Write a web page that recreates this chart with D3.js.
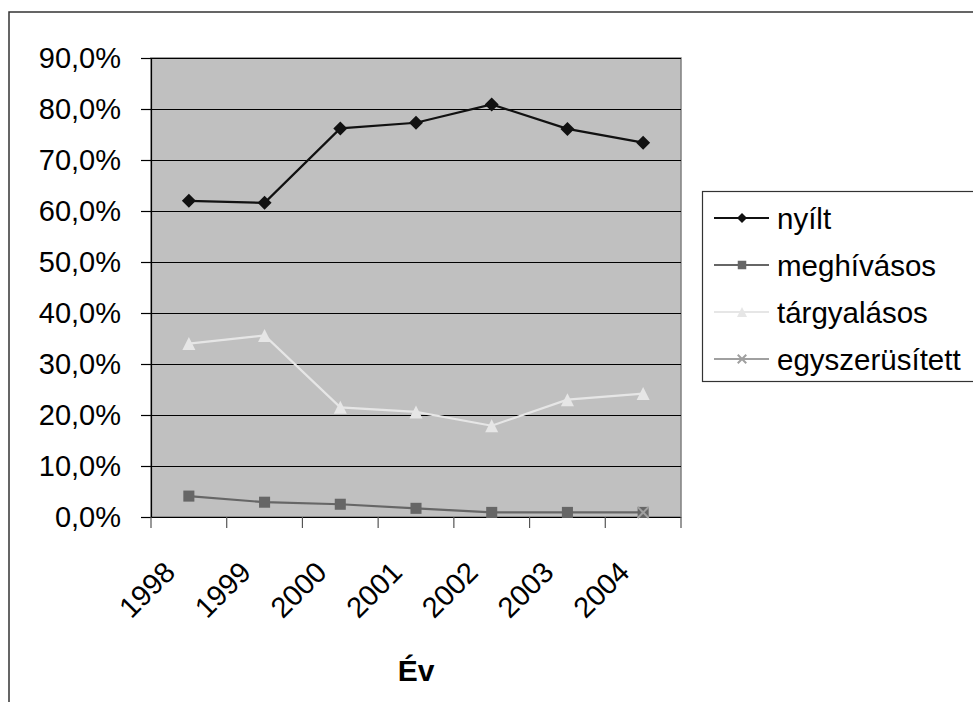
<!DOCTYPE html>
<html>
<head>
<meta charset="utf-8">
<script src="https://cdn.jsdelivr.net/npm/d3@7"></script>
<style>
  html, body { margin: 0; padding: 0; background: #fff; }
  svg { display: block; }
  text { font-family: "Liberation Sans", Arial, sans-serif; }
</style>
</head>
<body>
<svg id="chart" width="973" height="702"></svg>
<script>
const years = ["1998", "1999", "2000", "2001", "2002", "2003", "2004"];
const nyilt = [62.0, 61.6, 76.2, 77.3, 80.9, 76.1, 73.4];
const meghivasos = [4.1, 2.9, 2.5, 1.7, 0.9, 0.9, 0.9];
const targyalasos = [34.0, 35.6, 21.5, 20.6, 17.9, 23.0, 24.2];
const egyszerusitett = [null, null, null, null, null, null, 0.9];
const yTicks = [0, 10, 20, 30, 40, 50, 60, 70, 80, 90];
const seriesNames = ["nyílt", "meghívásos", "tárgyalásos", "egyszerüsített"];
const xTitle = "Év";

const series = [
  { name: seriesNames[0], values: nyilt, line: "#111111", fill: "#111111", marker: "diamond", size: 14 },
  { name: seriesNames[1], values: meghivasos, line: "#666666", fill: "#666666", marker: "square", size: 13 },
  { name: seriesNames[2], values: targyalasos, line: "#e6e6e6", fill: "#e6e6e6", marker: "triangle", size: 13 },
  { name: seriesNames[3], values: egyszerusitett, line: "#a0a0a0", fill: "#a0a0a0", marker: "x", size: 13 }
];

const svg = d3.select("#chart");

// outer chart border
svg.append("rect").attr("x", 9).attr("y", 12).attr("width", 1000).attr("height", 740)
  .attr("fill", "#fff").attr("stroke", "#333").attr("stroke-width", 1.5);

const plot = { left: 151, right: 681, top: 58, bottom: 517 };

const x = d3.scaleBand().domain(years).range([plot.left, plot.right]).paddingInner(0).paddingOuter(0);
const y = d3.scaleLinear().domain([0, 90]).range([plot.bottom, plot.top]);

// plot background
svg.append("rect").attr("x", plot.left).attr("y", plot.top)
  .attr("width", plot.right - plot.left).attr("height", plot.bottom - plot.top)
  .attr("fill", "#c0c0c0").attr("stroke", "#808080").attr("stroke-width", 1.5);

// gridlines
svg.append("g").selectAll("line").data(yTicks.filter(d => d > 0)).join("line")
  .attr("x1", plot.left).attr("x2", plot.right)
  .attr("y1", d => Math.round(y(d)) + 0.5).attr("y2", d => Math.round(y(d)) + 0.5)
  .attr("stroke", "#000").attr("stroke-width", 1.2);

// y axis
const yAxis = d3.axisLeft(y).tickValues(yTicks).tickSize(10).tickPadding(20)
  .tickFormat(d => d3.format(".1f")(d).replace(".", ",") + "%");
const gy = svg.append("g").attr("transform", `translate(${plot.left},0)`).call(yAxis);
gy.select(".domain").attr("stroke", "#000").attr("stroke-width", 1.2);
gy.selectAll(".tick line").attr("stroke", "#000").attr("stroke-width", 1.2);
gy.selectAll(".tick text").attr("font-size", 29).attr("fill", "#000")
  .attr("font-family", "Liberation Sans, Arial, sans-serif");

// x axis (ticks at category boundaries)
const xAxisG = svg.append("g");
xAxisG.append("line").attr("x1", plot.left).attr("x2", plot.right)
  .attr("y1", plot.bottom + 0.5).attr("y2", plot.bottom + 0.5).attr("stroke", "#000").attr("stroke-width", 1.2);
const boundaries = years.map(d => x(d)).concat([x(years[years.length - 1]) + x.bandwidth()]);
xAxisG.selectAll("line.tk").data(boundaries).join("line").attr("class", "tk")
  .attr("x1", d => d).attr("x2", d => d)
  .attr("y1", plot.bottom).attr("y2", plot.bottom + 11)
  .attr("stroke", "#555").attr("stroke-width", 1.2);
xAxisG.selectAll("text").data(years).join("text")
  .attr("transform", d => `translate(${x(d) + x.bandwidth() / 2 - 12},${plot.bottom + 57}) rotate(-45)`)
  .attr("text-anchor", "end")
  .attr("font-size", 29).attr("fill", "#000")
  .text(d => d);

// x title
svg.append("text").attr("x", (plot.left + plot.right) / 2).attr("y", 681)
  .attr("text-anchor", "middle").attr("font-size", 30).attr("font-weight", "bold")
  .text(xTitle);

// marker drawing
function drawMarker(g, type, size, color) {
  const s = size / 2;
  if (type === "diamond") {
    g.append("path").attr("d", `M0,${-s}L${s},0L0,${s}L${-s},0Z`).attr("fill", color);
  } else if (type === "square") {
    g.append("rect").attr("x", -s * 0.85).attr("y", -s * 0.85).attr("width", s * 1.7).attr("height", s * 1.7).attr("fill", color);
  } else if (type === "triangle") {
    g.append("path").attr("d", `M0,${-s}L${s},${s}L${-s},${s}Z`).attr("fill", color);
  } else if (type === "x") {
    const r = s * 0.85;
    g.append("path").attr("d", `M${-r},${-r}L${r},${r}M${-r},${r}L${r},${-r}`)
      .attr("stroke", color).attr("stroke-width", 2).attr("fill", "none");
  }
}

const lineGen = d3.line()
  .defined(d => d.v !== null)
  .x(d => x(d.year) + x.bandwidth() / 2)
  .y(d => y(d.v));

series.forEach(s => {
  const pts = years.map((yr, i) => ({ year: yr, v: s.values[i] }));
  svg.append("path").datum(pts).attr("d", lineGen)
    .attr("fill", "none").attr("stroke", s.line).attr("stroke-width", 2.2);
  pts.filter(p => p.v !== null).forEach(p => {
    const g = svg.append("g").attr("transform", `translate(${x(p.year) + x.bandwidth() / 2},${y(p.v)})`);
    drawMarker(g, s.marker, s.size, s.fill);
  });
});

// legend
const legend = svg.append("g");
legend.append("rect").attr("x", 702.5).attr("y", 191.5).attr("width", 300).attr("height", 190)
  .attr("fill", "#fff").attr("stroke", "#333").attr("stroke-width", 1.2);
const rowY = [218, 265, 312, 359];
series.forEach((s, i) => {
  const g = legend.append("g").attr("transform", `translate(0,${rowY[i]})`);
  g.append("line").attr("x1", 714).attr("x2", 769).attr("y1", 0).attr("y2", 0)
    .attr("stroke", s.line).attr("stroke-width", 2);
  const m = g.append("g").attr("transform", "translate(742,0)");
  drawMarker(m, s.marker, 10, s.fill);
  g.append("text").attr("x", 777).attr("y", 0).attr("dy", "0.36em")
    .attr("font-size", 29.5).attr("fill", "#000").text(s.name);
});
</script>
</body>
</html>
